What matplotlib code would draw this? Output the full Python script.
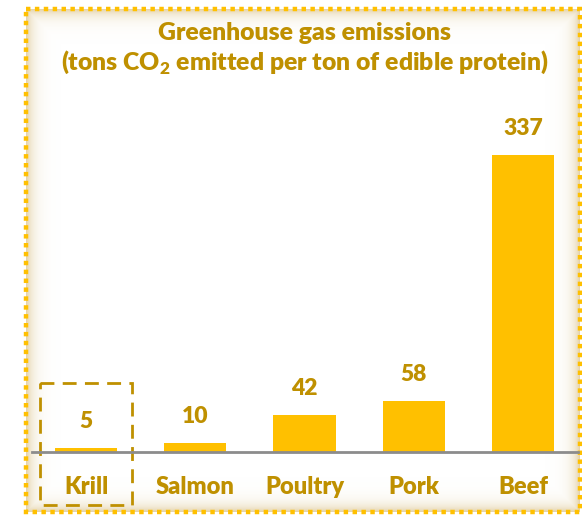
import numpy as np
import matplotlib
matplotlib.use("Agg")
import matplotlib.pyplot as plt
from matplotlib.patches import Rectangle

categories = ["Krill", "Salmon", "Poultry", "Pork", "Beef"]
values = [5, 10, 42, 58, 337]
title_line1 = "Greenhouse gas emissions"
title_line2 = r"(tons CO$_\mathbf{2}$ emitted per ton of edible protein)"

plt.rcParams['font.family'] = ['Lato', 'DejaVu Sans']
plt.rcParams['font.weight'] = 'heavy'
plt.rcParams['mathtext.fontset'] = 'custom'
plt.rcParams['mathtext.rm'] = 'Lato:heavy'
plt.rcParams['mathtext.bf'] = 'Lato:heavy'

W, H = 582, 515
GOLD = "#BF9000"
BAR = "#FFC000"
WT = 'heavy'

fig = plt.figure(figsize=(W / 100, H / 100), dpi=100)
fig.patch.set_facecolor("white")

# background glow
bg = fig.add_axes([0, 0, 1, 1])
bg.set_xlim(0, W)
bg.set_ylim(H, 0)
bg.axis("off")
L, T, R, B = 26, 9, 580, 512
yy, xx = np.mgrid[0:H, 0:W] + 0.5
d = np.minimum.reduce([xx - L, R - xx, yy - T, B - yy])
inside = d > 0
alpha = np.where(inside, 0.55 * np.exp(-np.clip(d, 0, None) / 7.0), 0.0)
img = np.zeros((H, W, 4))
img[..., 0] = 205 / 255
img[..., 1] = 170 / 255
img[..., 2] = 90 / 255
img[..., 3] = alpha
bg.imshow(img, extent=(0, W, H, 0), interpolation="bilinear", zorder=0)
bg.add_patch(Rectangle((L, T), R - L, B - T, fill=False, edgecolor=BAR,
                       lw=3.2, linestyle=(0, (1, 1)), zorder=2))
bg.add_patch(Rectangle((40, 383), 92, 122, fill=False, edgecolor=GOLD,
                       lw=2, linestyle=(0, (5, 3)), zorder=2))

# main axes
x0_px, x1_px = 32, 578
base_px = 452
ppu = 0.881
top_px = 90
ax = fig.add_axes([x0_px / W, (H - base_px) / H, (x1_px - x0_px) / W,
                   (base_px - top_px) / H])
ax.patch.set_alpha(0)
spacing = 109.25
first_c = 86
ax.set_xlim((x0_px - first_c) / spacing, (x1_px - first_c) / spacing)
ax.set_ylim(0, (base_px - top_px) / ppu)
x = np.arange(len(categories))
ax.bar(x, values, width=0.57, color=BAR, zorder=2)
for s in ["top", "right", "left"]:
    ax.spines[s].set_visible(False)
ax.spines["bottom"].set_color("#8C8C8C")
ax.spines["bottom"].set_linewidth(2)
ax.spines["bottom"].set_zorder(3)
ax.set_yticks([])
ax.set_xticks([])
for xi, name in zip(x, categories):
    ax.annotate(name, (xi, 0), xytext=(0, -25.2), textcoords="offset points",
                ha="center", va="center", fontsize=17, color=GOLD,
                fontweight=WT, annotation_clip=False)
for xi, v in zip(x, values):
    ax.annotate(str(v), (xi, v), xytext=(0, 19), textcoords="offset points",
                ha="center", va="center", fontsize=16.5, color=GOLD,
                fontweight=WT)

fig.text(305 / W, 1 - 33 / H, title_line1, ha="center", va="center",
         fontsize=17.8, color=GOLD, fontweight=WT)
fig.text(305 / W, 1 - 62 / H, title_line2, ha="center", va="center",
         fontsize=17.8, color=GOLD, fontweight=WT)

fig.savefig("out.png", dpi=100)
